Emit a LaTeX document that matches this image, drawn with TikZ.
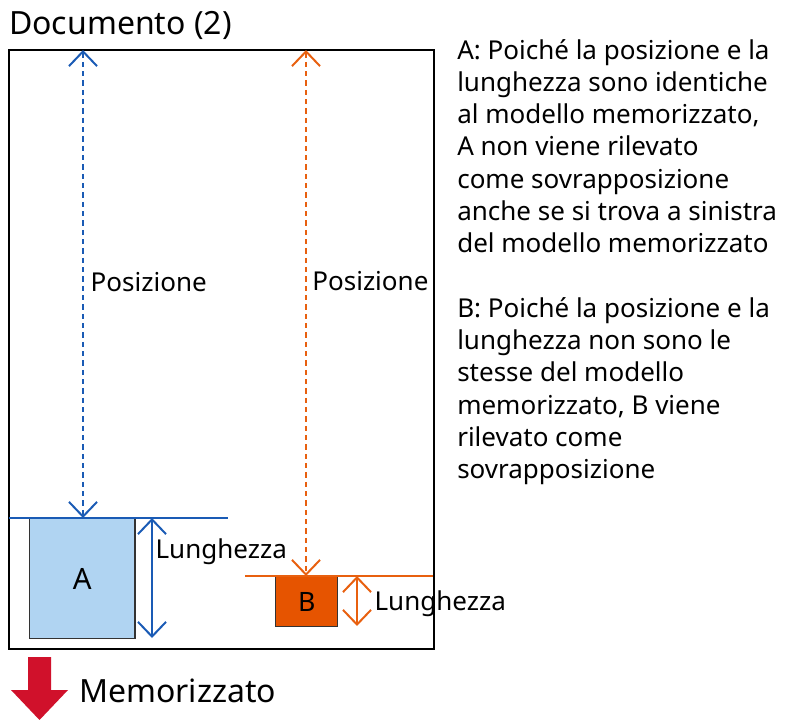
\documentclass[tikz,border=0pt]{standalone}
\usepackage{fontspec}
\setmainfont{Noto Sans}
\usetikzlibrary{arrows.meta}
\definecolor{posblue}{HTML}{1A5BB5}
\definecolor{posorange}{HTML}{E8600F}
\definecolor{boxblue}{HTML}{B0D4F2}
\definecolor{boxorange}{HTML}{E65400}
\definecolor{memred}{HTML}{D0112B}
\tikzset{
  chev/.tip={Straight Barb[length=11pt, width=21pt, line width=1.5pt]},
  posline/.style={dash pattern=on 4pt off 3pt, line width=1.6pt, chev-chev},
  lenline/.style={line width=1.6pt, chev-chev},
  lbl/.style={font=\fontsize{19.5}{23}\selectfont, inner sep=1pt},
}
\begin{document}
\begin{tikzpicture}[x=0.75pt, y=-0.75pt]
    \useasboundingbox (0,0) rectangle (785,720);

    % Document frame
    \node[anchor=south west, inner sep=0, font=\fontsize{24}{28}\selectfont] (title) at (9,40) {Documento (2)};
    \draw[line width=1.4pt] (9,50) rectangle (434,649);

    % Pattern A
    \node[draw=black!80, line width=1pt, fill=boxblue, minimum width=79pt, minimum height=90pt,
          anchor=north west, font=\fontsize{22}{26}\selectfont] (A) at (29,518) {A};
    \draw[posblue, line width=1.5pt] (9,518) -- (228,518);
    \coordinate (atop) at (83,50);
    \coordinate (abot) at (83,518);
    \draw[posblue, posline] (atop) -- node[pos=0.495, right=4pt, lbl, text=black] (posA) {Posizione} (abot);
    \coordinate (alen1) at (152,518);
    \coordinate (alen2) at (152,638);
    \draw[posblue, lenline] (alen1) -- (alen2);
    \node[lbl, anchor=west] (lenA) at (154,552) {Lunghezza};

    % Pattern B
    \node[draw=black!80, line width=1pt, fill=boxorange, minimum width=46.5pt, minimum height=37.5pt,
          anchor=north west, font=\fontsize{20}{24}\selectfont] (B) at (275,576) {B};
    \draw[posorange, line width=1.5pt] (245,576) -- (433,576);
    \coordinate (btop) at (306,50);
    \coordinate (bbot) at (306,576);
    \draw[posorange, posline] (btop) -- node[pos=0.44, right=3pt, lbl, text=black] (posB) {Posizione} (bbot);
    \coordinate (blen1) at (357,576);
    \coordinate (blen2) at (357,626);
    \draw[posorange, lenline] (blen1) -- (blen2);
    \node[lbl, anchor=west] (lenB) at (373,604) {Lunghezza};

    % Memorized arrow
    \fill[memred] (28,657) -- (51,657) -- (51,690) -- (68,690) -- (39.5,720) -- (11,690) -- (28,690) -- cycle;
    \node[anchor=west, inner sep=0, font=\fontsize{24}{28}\selectfont] (mem) at (79,691) {Memorizzato};

    % Notes
    \node[anchor=north west, inner sep=0, align=left, font=\fontsize{19.5}{24.2}\selectfont] (notes) at (457,39)
      {A: Poiché la posizione e la\\lunghezza sono identiche\\al modello memorizzato,\\A non viene rilevato\\come sovrapposizione\\anche se si trova a sinistra\\del modello memorizzato\\[24.2pt]
       B: Poiché la posizione e la\\lunghezza non sono le\\stesse del modello\\memorizzato, B viene\\rilevato come\\sovrapposizione};
\end{tikzpicture}
\end{document}
